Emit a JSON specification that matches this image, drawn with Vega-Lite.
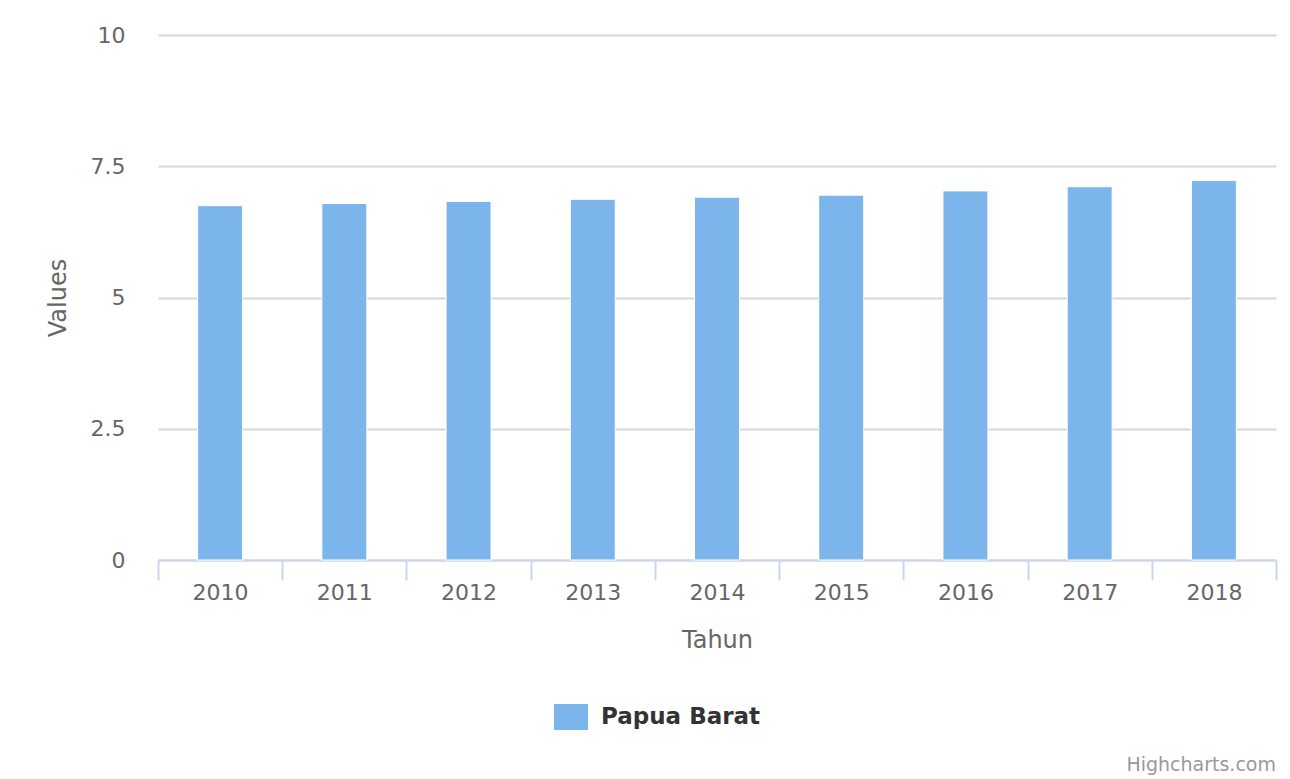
{
  "$schema": "https://vega.github.io/schema/vega-lite/v6.json",
  "autosize": "none",
  "width": 1118,
  "height": 525,
  "padding": {"left": 158, "top": 35, "right": 14, "bottom": 219},
  "background": "#ffffff",
  "config": {
    "view": {"stroke": null},
    "font": "DejaVu Sans"
  },
  "title": {
    "text": "Highcharts.com",
    "orient": "bottom",
    "anchor": "end",
    "frame": "group",
    "fontSize": 19,
    "fontWeight": "normal",
    "color": "#999999",
    "font": "DejaVu Sans",
    "offset": 25
  },
  "data": {
    "values": [
      {"Tahun": "2010", "Value": 6.75, "Series": "Papua Barat"},
      {"Tahun": "2011", "Value": 6.79, "Series": "Papua Barat"},
      {"Tahun": "2012", "Value": 6.83, "Series": "Papua Barat"},
      {"Tahun": "2013", "Value": 6.87, "Series": "Papua Barat"},
      {"Tahun": "2014", "Value": 6.91, "Series": "Papua Barat"},
      {"Tahun": "2015", "Value": 6.95, "Series": "Papua Barat"},
      {"Tahun": "2016", "Value": 7.03, "Series": "Papua Barat"},
      {"Tahun": "2017", "Value": 7.11, "Series": "Papua Barat"},
      {"Tahun": "2018", "Value": 7.23, "Series": "Papua Barat"}
    ]
  },
  "mark": {"type": "bar", "width": {"band": 0.362}, "stroke": "#ffffff", "strokeWidth": 1},
  "encoding": {
    "x": {
      "field": "Tahun",
      "type": "ordinal",
      "scale": {"paddingInner": 0, "paddingOuter": 0},
      "axis": {
        "title": "Tahun",
        "titleFontSize": 24,
        "titleFontWeight": "normal",
        "titleColor": "#666666",
        "titlePadding": 25,
        "labelAngle": 0,
        "labelFontSize": 22,
        "labelColor": "#666666",
        "labelPadding": 2,
        "tickBand": "extent",
        "tickSize": 20,
        "tickWidth": 2,
        "tickColor": "#ccd6eb",
        "domainColor": "#ccd6eb",
        "domainWidth": 2,
        "grid": false
      }
    },
    "y": {
      "field": "Value",
      "type": "quantitative",
      "scale": {"domain": [0, 10], "nice": false},
      "axis": {
        "title": "Values",
        "titleFontSize": 24,
        "titleFontWeight": "normal",
        "titleColor": "#666666",
        "titlePadding": 20,
        "values": [0, 2.5, 5, 7.5, 10],
        "labelExpr": "toString(datum.value)",
        "labelFontSize": 22,
        "labelColor": "#666666",
        "labelPadding": 33,
        "ticks": false,
        "domain": false,
        "grid": true,
        "gridColor": "#d8d8d8",
        "gridWidth": 2
      }
    },
    "color": {
      "field": "Series",
      "type": "nominal",
      "scale": {"range": ["#7cb5ec"]},
      "legend": {
        "title": null,
        "orient": "none",
        "legendX": 396,
        "legendY": 665,
        "padding": 0,
        "symbolType": "M-1,-0.765H1V0.765H-1Z",
        "symbolSize": 1156,
        "symbolStrokeWidth": 0,
        "symbolOpacity": 1,
        "labelFontSize": 23,
        "labelFontWeight": "bold",
        "labelColor": "#333333",
        "labelOffset": 13
      }
    }
  }
}
